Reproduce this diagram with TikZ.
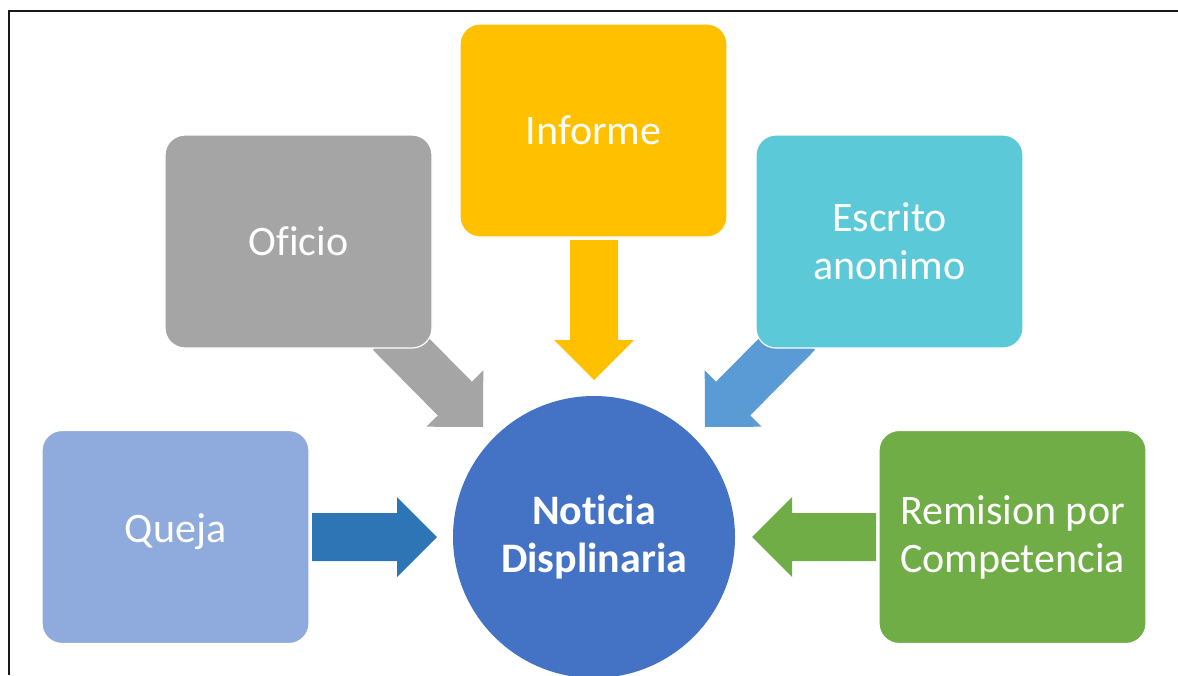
\documentclass[tikz,border=0pt]{standalone}
\usepackage{fontspec}
\setmainfont{Carlito}[Ligatures={NoCommon}]
\usetikzlibrary{calc}
\definecolor{quejabox}{HTML}{8FAADC}
\definecolor{quejaarr}{HTML}{2E75B6}
\definecolor{gray1}{HTML}{A5A5A5}
\definecolor{gold1}{HTML}{FFC000}
\definecolor{aqua1}{HTML}{5BC9D7}
\definecolor{lblue1}{HTML}{5B9BD5}
\definecolor{green1}{HTML}{70AD47}
\definecolor{blue1}{HTML}{4472C4}
\newcommand\blockarr[3]{% tail, tip, colour
  \coordinate (#1-h) at ($(#2)!40pt!(#1)$);
  \fill[#3] ($(#1)!24pt!90:(#2)$) -- ($(#1-h)!24pt!90:(#2)$) -- ($(#1-h)!40pt!90:(#2)$)
    -- (#2) -- ($(#1-h)!40pt!-90:(#2)$) -- ($(#1-h)!24pt!-90:(#2)$)
    -- ($(#1)!24pt!-90:(#2)$) -- cycle;}
\tikzset{
  srcbox/.style={draw=white, line width=1.2pt, rounded corners=20pt, minimum width=267pt,
    minimum height=213pt, text=white, align=center, inner sep=0pt,
    font=\fontsize{42}{48}\selectfont},
  hub/.style={circle, fill=blue1, minimum size=282pt, text=white, align=center, inner sep=0pt,
    font=\fontsize{42}{48}\selectfont\bfseries},
  frameline/.style={line width=2.2pt, black!90}
}
\begin{document}
\begin{tikzpicture}[x=1pt,y=-1pt]
\useasboundingbox (0,0) rectangle (1178,675);
% frame
\coordinate (f1) at (1178,11);
\coordinate (f2) at (9,11);
\coordinate (f3) at (9,675);
\draw[frameline] (f1) -- (f2) -- (f3);
% arrow end points
\coordinate (qt) at (312,537);  \coordinate (qp) at (437,537);
\coordinate (rt) at (876,537);  \coordinate (rp) at (752,537);
\coordinate (it) at (594,240);  \coordinate (ip) at (594,380);
\coordinate (ot) at (390,333);  \coordinate (op) at (483,427);
\coordinate (et) at (798,333);  \coordinate (ep) at (705,427);
\blockarr{qt}{qp}{quejaarr}
\blockarr{rt}{rp}{green1}
\blockarr{it}{ip}{gold1}
\blockarr{ot}{op}{gray1}
\blockarr{et}{ep}{lblue1}
% boxes
\node[srcbox, fill=quejabox] (queja) at (175.5,537) {\raisebox{5pt}[\height][\depth]{Queja}};
\node[srcbox, fill=gray1] (oficio) at (298.5,241.5) {Oficio};
\node[srcbox, fill=gold1] (informe) at (593.5,130.5) {Informe};
\node[srcbox, fill=aqua1] (escrito) at (889.5,241.5) {Escrito\\anonimo};
\node[srcbox, fill=green1] (remision) at (1012.5,537) {Remision por\\Competencia};
\node[hub] (noticia) at (594,537) {Noticia\\Displinaria};
\end{tikzpicture}
\end{document}
